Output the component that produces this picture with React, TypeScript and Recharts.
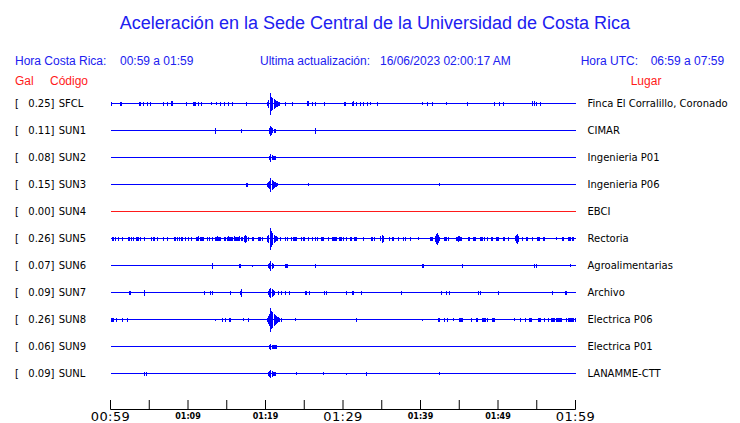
import { ComposedChart, Line, XAxis, YAxis } from 'recharts';

type Ev = [number, number]; // [minutes after 00:59, half amplitude]

const CODES = ['SFCL', 'SUN1', 'SUN2', 'SUN3', 'SUN4', 'SUN5', 'SUN6', 'SUN7', 'SUN8', 'SUN9', 'SUNL'];
const PEAK_GAL = [0.25, 0.11, 0.08, 0.15, 0.0, 0.26, 0.07, 0.09, 0.26, 0.06, 0.09];
const PLACES = [
  'Finca El Corralillo, Coronado',
  'CIMAR',
  'Ingenieria P01',
  'Ingenieria P06',
  'EBCI',
  'Rectoria',
  'Agroalimentarias',
  'Archivo',
  'Electrica P06',
  'Electrica P01',
  'LANAMME-CTT',
];

const TICK_MINUTES = [0, 5, 10, 15, 20, 25, 30, 35, 40, 45, 50, 55, 60];
const TICK_LABELS = ['00:59', '', '01:09', '', '01:19', '', '01:29', '', '01:39', '', '01:49', '', '01:59'];
const MAJOR_LABELS = ['00:59', '01:29', '01:59'];

const SFCL: Ev[] = [
  [0.13, 2], [1.3, 2], [1.45, 2], [3.7, 2], [3.85, 2], [4.3, 2], [4.8, 2], [5.2, 2], [6.9, 2], [7.35, 2],
  [7.85, 2.5], [8.0, 2.5], [9.76, 2], [10.7, 2], [10.85, 2], [11.0, 2], [11.4, 2], [11.8, 2], [13.0, 1.5],
  [13.7, 1.5], [14.15, 2], [14.75, 2], [15.2, 2], [15.7, 2], [17.6, 2],
  [20.3, 2], [20.45, 4], [20.6, 6], [20.7, 11], [20.8, 7], [20.95, 6], [21.1, 5], [21.25, 4], [21.4, 3],
  [21.55, 3], [21.7, 2], [21.85, 2],
  [22.6, 2], [23.5, 2], [25.45, 2.5], [25.6, 2.5], [26.0, 2], [26.45, 2], [27.6, 2], [30.2, 2], [30.35, 2],
  [31.2, 2], [31.35, 2.5], [31.8, 2], [32.2, 2], [32.7, 2], [33.1, 2], [33.5, 1.5], [34.5, 2], [40.2, 1.5],
  [40.9, 2], [41.6, 2], [43.3, 1.5], [46.1, 2], [49.5, 2], [50.2, 2], [50.7, 2], [54.5, 2.5], [54.65, 2.5],
  [55.0, 2], [55.5, 2],
];

const SUN1: Ev[] = [
  [13.55, 3], [16.85, 2], [16.95, 2], [20.5, 3], [20.65, 5], [20.8, 4], [20.95, 2.5], [21.1, 2], [21.25, 2],
  [26.4, 3],
];

const SUN2: Ev[] = [[20.55, 2], [20.7, 4], [20.85, 2.5], [21.0, 2], [21.15, 2], [21.3, 2]];

const SUN3: Ev[] = [
  [17.55, 2], [17.7, 2], [20.2, 2], [20.35, 3], [20.5, 4], [20.7, 7], [20.85, 5], [21.0, 4], [21.15, 3],
  [21.3, 2.5], [21.45, 2], [21.6, 1.5], [25.5, 1.5], [42.4, 1.5],
];

const SUN4: Ev[] = [];

const SUN5: Ev[] = [
  [0.3, 2], [0.45, 2], [0.6, 2], [1.08, 2], [1.5, 2], [2.35, 2], [2.5, 2], [2.65, 2], [2.97, 2], [3.35, 2],
  [3.5, 2], [3.65, 2], [3.9, 2], [4.35, 2], [5.35, 2], [5.5, 2], [5.65, 2], [6.06, 2], [6.9, 2], [7.35, 2],
  [8.3, 2], [8.45, 2], [8.6, 2], [8.95, 2], [9.1, 2], [9.25, 2], [9.7, 2], [10.0, 2], [10.4, 2], [11.1, 2],
  [11.25, 2], [11.4, 2.5], [11.55, 2], [11.7, 2], [11.85, 2], [12.0, 2], [12.5, 2], [12.8, 2], [13.2, 2],
  [13.5, 2], [13.65, 2], [13.8, 2.5], [13.95, 2], [14.1, 2], [14.25, 2], [14.75, 2], [14.9, 2], [15.05, 2],
  [15.2, 2.5], [15.35, 2], [15.5, 2], [15.65, 2], [15.8, 2], [15.95, 2.5], [16.1, 2], [16.25, 2], [16.4, 2],
  [16.55, 2], [16.7, 2.5], [16.85, 2], [17.0, 2], [17.25, 3], [17.4, 4], [17.55, 3], [17.85, 2], [18.3, 2],
  [18.5, 2], [19.1, 2], [19.25, 2], [19.4, 2], [19.55, 2],
  [20.3, 3], [20.45, 4], [20.6, 6], [20.7, 11], [20.8, 8], [20.95, 6], [21.1, 4], [21.25, 3], [21.4, 2.5],
  [21.55, 2],
  [21.9, 2], [22.6, 2], [22.85, 2], [23.4, 2], [23.55, 2], [23.7, 2], [23.85, 2], [24.0, 2], [24.7, 2],
  [24.85, 2], [25.0, 2], [25.5, 2], [26.0, 2], [26.5, 2], [26.65, 2], [27.2, 2], [27.35, 2], [27.5, 2],
  [28.1, 2], [28.6, 2], [28.75, 2], [28.9, 2], [29.05, 2], [29.2, 2], [29.5, 2], [29.65, 2], [29.85, 2],
  [30.0, 2], [30.45, 2], [31.0, 2], [31.15, 2], [31.5, 2], [31.65, 2], [31.8, 2], [32.7, 2], [33.7, 2],
  [33.85, 2], [34.0, 2], [34.9, 2.5], [35.05, 4], [35.2, 3], [35.95, 2], [36.4, 2], [36.55, 2], [37.2, 2],
  [37.8, 2], [38.0, 2], [38.7, 2], [39.7, 1.5], [41.3, 2], [41.45, 2], [41.6, 2], [41.9, 3], [42.05, 5],
  [42.2, 6], [42.35, 4], [42.5, 2], [43.1, 2], [43.25, 2], [43.4, 2], [43.55, 2], [44.6, 2], [44.75, 2],
  [44.9, 3], [45.05, 2.5], [45.2, 2], [45.35, 2], [46.2, 2], [46.35, 2], [46.85, 2], [47.0, 2], [47.15, 2],
  [47.75, 2], [47.9, 2], [48.05, 2], [48.2, 2], [48.6, 2], [49.1, 2], [49.25, 2], [49.75, 2], [49.9, 2],
  [50.05, 2], [50.7, 2], [50.85, 2], [51.4, 2], [52.2, 2.5], [52.35, 4], [52.5, 5], [52.65, 3], [53.2, 2],
  [53.7, 2], [53.85, 2], [54.5, 2], [55.05, 2], [55.2, 2], [55.35, 2], [55.9, 2], [56.05, 2], [57.6, 1.5],
  [58.3, 2], [58.45, 2], [59.1, 2], [59.25, 2], [59.4, 2], [59.55, 2], [59.7, 2],
];

const SUN6: Ev[] = [
  [13.2, 3], [16.6, 2], [16.8, 2], [18.3, 1], [20.4, 2], [20.55, 3], [20.7, 5], [20.85, 3], [21.0, 2],
  [22.6, 2], [22.75, 2], [22.9, 2], [26.45, 2], [40.3, 2], [40.4, 2], [45.4, 2], [54.7, 2], [55.0, 2],
  [59.35, 1.5],
];

const SUN7: Ev[] = [
  [2.45, 2], [2.6, 2], [4.4, 3], [12.1, 2], [12.95, 2], [13.1, 2], [15.5, 2], [16.8, 2], [16.95, 4],
  [20.4, 2], [20.55, 4], [20.7, 5], [20.85, 4], [21.0, 3], [21.15, 2], [21.7, 2], [22.1, 2], [22.6, 2],
  [23.1, 2], [25.1, 2], [25.25, 2], [25.7, 2], [27.65, 2], [27.9, 2], [30.4, 2], [31.25, 2], [31.4, 2],
  [32.4, 2], [37.6, 2], [42.75, 2], [43.3, 2], [43.8, 2], [47.5, 2], [47.7, 2], [50.1, 2], [57.0, 2],
  [58.75, 2], [58.9, 2],
];

const SUN8: Ev[] = [
  [0.1, 2], [0.25, 2], [0.4, 2], [0.73, 2], [1.5, 2], [2.2, 2], [13.55, 1], [14.5, 2], [14.8, 2], [15.3, 2],
  [15.45, 2], [17.2, 1.5], [17.8, 2],
  [20.2, 2], [20.35, 4], [20.5, 6], [20.65, 9], [20.7, 12], [20.8, 9], [20.95, 8], [21.1, 6], [21.25, 5],
  [21.4, 4], [21.55, 3], [21.7, 2.5], [21.85, 2], [22.0, 2],
  [23.9, 1.5], [31.8, 2], [40.2, 1], [42.35, 2], [42.5, 2], [43.1, 2], [43.5, 2], [44.3, 1.5], [45.0, 2],
  [45.15, 2], [45.3, 2], [45.45, 2], [46.6, 2], [47.25, 2], [47.4, 2], [48.0, 2], [48.15, 2], [48.3, 2],
  [48.45, 2], [48.6, 2], [49.3, 2], [49.45, 2], [49.6, 2], [52.1, 1.5], [52.9, 2], [53.6, 2], [54.0, 2],
  [54.15, 2], [54.3, 2], [55.2, 2], [55.35, 2], [55.5, 2], [56.0, 2], [56.5, 2], [56.9, 2], [57.05, 2],
  [57.2, 2], [57.35, 2], [57.5, 2], [57.65, 2], [57.8, 2], [57.95, 2], [58.1, 2], [58.25, 2], [58.9, 2],
  [59.05, 2], [59.2, 2], [59.35, 2], [59.5, 2], [59.65, 2], [59.8, 2], [59.95, 2],
];

const SUN9: Ev[] = [[20.55, 2], [20.7, 3], [20.85, 2], [21.0, 2], [21.15, 2], [21.3, 2], [21.45, 2]];

const SUNL: Ev[] = [
  [4.4, 2], [4.6, 2], [20.4, 2], [20.55, 3], [20.7, 4], [20.85, 3], [21.0, 2], [21.15, 2], [21.3, 2],
  [24.0, 1.5], [27.5, 1.5], [30.4, 1], [33.0, 2], [42.5, 1.5],
];

const TRACES = [SFCL, SUN1, SUN2, SUN3, SUN4, SUN5, SUN6, SUN7, SUN8, SUN9, SUNL];

const BLUE = '#0000ff';
const RED = '#ff1a1a';
const TEXT_BLUE = '#2020f0';
const ROW_PX = 27; // one row of the y axis is 27px tall

// each spike becomes a short vertical excursion around the station's row
const toPoints = (events: Ev[], row: number) => {
  const pts = [{ t: 0, v: row }];
  [...events].sort((a, b) => a[0] - b[0]).forEach(([t, a]) => {
    const d = a / ROW_PX;
    pts.push({ t, v: row }, { t, v: row - d }, { t, v: row + d }, { t, v: row });
  });
  pts.push({ t: 60, v: row });
  return pts;
};

const LeftTick = (props: any) => {
  const { x, y, payload } = props;
  const i = payload.value as number;
  const base = y + 3.5;
  return (
    <g fontFamily='DejaVu Sans' fontSize={10} fill='#000'>
      <text x={x - 95.5} y={base}>[</text>
      <text x={x - 56} y={base} textAnchor='end'>{PEAK_GAL[i].toFixed(2)}]</text>
      <text x={x - 51.8} y={base}>{CODES[i]}</text>
    </g>
  );
};

const RightTick = (props: any) => {
  const { x, y, payload } = props;
  return (
    <text x={x} y={y + 3.5} fontFamily='DejaVu Sans' fontSize={10} fill='#000'>
      {PLACES[payload.value as number]}
    </text>
  );
};

const TimeTick = (props: any) => {
  const { x, y, index } = props;
  const label = TICK_LABELS[index];
  const major = MAJOR_LABELS.includes(label);
  return (
    <g>
      <line x1={x} x2={x} y1={y - 9.5} y2={y} stroke='#000' strokeWidth={1} />
      {label && (
        <text
          x={x}
          y={major ? y + 11.5 : y + 9}
          textAnchor='middle'
          fontFamily='DejaVu Sans'
          fontSize={major ? 13 : 8}
          fontWeight={major ? 'normal' : 'bold'}
          letterSpacing={major ? 0.4 : 0}
          fill='#000'
        >
          {label}
        </text>
      )}
    </g>
  );
};

const App = () => {
  const rows = CODES.map((_, i) => i);
  return (
    <div style={{ position: 'absolute', left: 0, top: 0, width: 740, height: 423, background: '#fff' }}>
      <ComposedChart width={740} height={423} margin={{ top: 90, right: 0, bottom: 0, left: 0 }}>
        <XAxis
          type='number'
          dataKey='t'
          domain={[0, 60]}
          ticks={TICK_MINUTES}
          interval={0}
          height={13.5}
          tickSize={0}
          tickMargin={0}
          tickLine={false}
          axisLine={{ stroke: '#000', strokeWidth: 1 }}
          tick={<TimeTick />}
        />
        <YAxis
          yAxisId='left'
          type='number'
          domain={[-0.5, 11.3333]}
          reversed
          ticks={rows}
          interval={0}
          width={110.5}
          tickSize={0}
          tickMargin={0}
          axisLine={false}
          tickLine={false}
          tick={<LeftTick />}
        />
        <YAxis
          yAxisId='right'
          orientation='right'
          type='number'
          domain={[-0.5, 11.3333]}
          reversed
          ticks={rows}
          interval={0}
          width={164.5}
          tickSize={0}
          tickMargin={12}
          axisLine={false}
          tickLine={false}
          tick={<RightTick />}
        />
        {TRACES.map((ev, i) => (
          <Line
            key={CODES[i]}
            yAxisId={i === 4 ? 'right' : 'left'}
            data={toPoints(ev, i)}
            dataKey='v'
            type='linear'
            stroke={ev.length ? BLUE : RED}
            strokeWidth={1}
            shapeRendering='crispEdges'
            dot={false}
            activeDot={false}
            isAnimationActive={false}
          />
        ))}
      </ComposedChart>
      <svg width={740} height={423} style={{ position: 'absolute', left: 0, top: 0, pointerEvents: 'none' }}>
        <g fontFamily='Liberation Sans' fill={TEXT_BLUE}>
          <text x={375} y={29} fontSize={18} textAnchor='middle'>
            Aceleración en la Sede Central de la Universidad de Costa Rica
          </text>
          <text x={15} y={65} fontSize={12}>Hora Costa Rica:</text>
          <text x={120} y={65} fontSize={12}>00:59 a 01:59</text>
          <text x={260} y={65} fontSize={12}>Ultima actualización:</text>
          <text x={380} y={65} fontSize={12}>16/06/2023 02:00:17 AM</text>
          <text x={580.7} y={65} fontSize={12}>Hora UTC:</text>
          <text x={650.7} y={65} fontSize={12}>06:59 a 07:59</text>
        </g>
        <g fontFamily='Liberation Sans' fill={RED} fontSize={12}>
          <text x={15} y={85}>Gal</text>
          <text x={50} y={85}>Código</text>
          <text x={630.7} y={85}>Lugar</text>
        </g>
      </svg>
    </div>
  );
};

export default App;
